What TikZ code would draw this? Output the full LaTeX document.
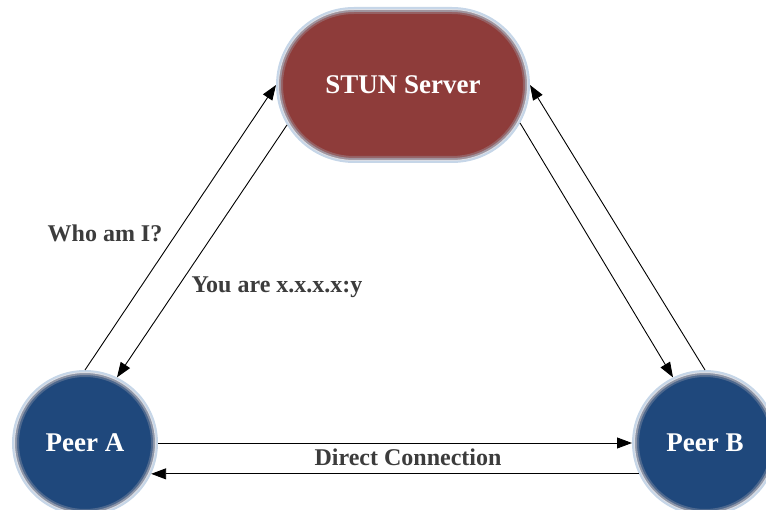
\documentclass[tikz,border=0pt]{standalone}
\usepackage{fontspec}
\setmainfont{Liberation Serif}
\usetikzlibrary{shapes.misc,arrows.meta}
\definecolor{serverred}{HTML}{8E3C3A}
\definecolor{peerblue}{HTML}{1F487C}
\definecolor{rimblue}{HTML}{C6D6E8}
\definecolor{rimshade}{HTML}{A4A6B2}
\definecolor{rimlight}{HTML}{DCDEE4}
\definecolor{labelgray}{HTML}{3C3C3C}
\tikzset{
  x=1pt, y=-1pt,
  rim/.style={draw=rimblue, line width=2pt, inner sep=0pt,
    text=white, font=\bfseries\fontsize{27}{30}\selectfont},
  % soft inner bevel: nested strokes clipped to the shape
  peer/.style={rim, circle, fill=peerblue, minimum size=144pt,
    path picture={
      \foreach \w/\c/\o in {12/rimshade/.35, 8/rimshade/.75, 4/rimlight/1}
        \draw[\c, line width=\w pt, opacity=\o] (path picture bounding box.center) circle (72pt);
    }},
  server/.style={rim, rounded rectangle, fill=serverred,
    minimum width=252pt, minimum height=154pt,
    path picture={
      \foreach \w/\c/\o in {12/rimshade/.35, 8/rimshade/.75, 4/rimlight/1}
        \draw[\c, line width=\w pt, opacity=\o, rounded corners=77pt]
          (path picture bounding box.south west) rectangle (path picture bounding box.north east);
    }},
  msg/.style={line width=0.9pt, -{Triangle[length=15pt,width=11pt]}},
  tag/.style={text=labelgray, font=\bfseries\fontsize{24}{28}\selectfont, inner sep=0pt}
}
\begin{document}
\begin{tikzpicture}
\useasboundingbox (0,0) rectangle (766,510);

% the three parties
\node[server] (stun) at (403,85) {STUN Server};
\node[peer] (peerA) at (85,443) {Peer A};
\node[peer] (peerB) at (705,443) {Peer B};

% peer A <-> server
\draw[msg] (peerA.north) -- (stun.west);
\draw[msg] (stun.199) -- (peerA.64);

% server <-> peer B
\draw[msg] (stun.-18) -- (peerB.116);
\draw[msg] (peerB.north) -- (stun.east);

% peer A <-> peer B
\draw[msg] (peerA.east) -- (peerB.west);
\draw[msg] (peerB.205) -- (peerA.-25);

% labels
\node[tag] (who) at (105,233) {Who am I?};
\node[tag] (you) at (277,287) {You are x.x.x.x:y};
\node[tag] (direct) at (408,457) {Direct Connection};
\end{tikzpicture}
\end{document}
